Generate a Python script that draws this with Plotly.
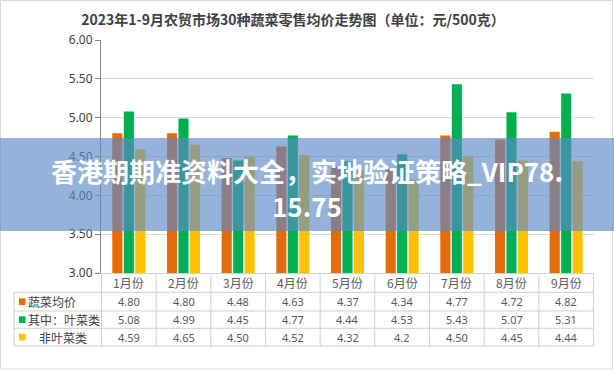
import plotly.graph_objects as go

months = ["1月份", "2月份", "3月份", "4月份", "5月份", "6月份", "7月份", "8月份", "9月份"]
avg_all = [4.80, 4.80, 4.48, 4.63, 4.37, 4.34, 4.77, 4.72, 4.82]
leafy = [5.08, 4.99, 4.45, 4.77, 4.44, 4.53, 5.43, 5.07, 5.31]
non_leafy = [4.59, 4.65, 4.50, 4.52, 4.32, 4.20, 4.50, 4.45, 4.44]
value_labels = [
    ["4.80", "4.80", "4.48", "4.63", "4.37", "4.34", "4.77", "4.72", "4.82"],
    ["5.08", "4.99", "4.45", "4.77", "4.44", "4.53", "5.43", "5.07", "5.31"],
    ["4.59", "4.65", "4.50", "4.52", "4.32", "4.2", "4.50", "4.45", "4.44"],
]
series_names = ["蔬菜均价", "其中：叶菜类", "非叶菜类"]
colors = ["#E46C0A", "#00B050", "#FFC000"]
title = "2023年1-9月农贸市场30种蔬菜零售均价走势图（单位：元/500克）"
overlay_lines = ["香港期期准资料大全，实地验证策略_VIP78.", "15.75"]

W, H = 614, 371
L, R, T, B = 101, 20, 40, 98
PW = W - L - R
PH = H - T - B


def xp(px):
    return (px - L) / PW


def yp(py):
    return (H - B - py) / PH


fig = go.Figure()
for name, vals, c in zip(series_names, [avg_all, leafy, non_leafy], colors):
    fig.add_trace(go.Bar(x=months, y=vals, name=name, marker=dict(color=c, line=dict(width=0))))

CJK = "Noto Sans CJK SC"
shapes = []
annotations = []
grid = "#D0D0D0"

rows_y = [273.3, 292.3, 311, 328.3, 346]
for y in rows_y[1:]:
    shapes.append(dict(type="line", xref="paper", yref="paper", x0=xp(14), x1=1, y0=yp(y), y1=yp(y),
                       line=dict(color=grid, width=1)))
shapes.append(dict(type="line", xref="paper", yref="paper", x0=xp(14), x1=xp(14), y0=yp(rows_y[1]), y1=yp(rows_y[-1]),
                   line=dict(color=grid, width=1)))
for i in range(len(months) + 1):
    shapes.append(dict(type="line", xref="x", yref="paper", x0=i - 0.5, x1=i - 0.5, y0=yp(rows_y[0]), y1=yp(rows_y[-1]),
                       line=dict(color=grid, width=1)))

row_centers = [(rows_y[k] + rows_y[k + 1]) / 2 for k in range(4)]
for i, m in enumerate(months):
    annotations.append(dict(x=m, xref="x", y=yp(row_centers[0]), yref="paper", text=m, showarrow=False,
                            font=dict(family=CJK, size=12, color="#595959"), xanchor="center", yanchor="middle"))
    for r in range(3):
        annotations.append(dict(x=m, xref="x", y=yp(row_centers[r + 1]), yref="paper", text=value_labels[r][i],
                                showarrow=False, font=dict(family="Noto Sans", size=11, color="#595959"),
                                xanchor="center", yanchor="middle"))

label_x = [26, 26, 37]
for r in range(3):
    cy = row_centers[r + 1]
    shapes.append(dict(type="rect", xref="paper", yref="paper", x0=xp(19), x1=xp(25.5), y0=yp(cy + 3.3), y1=yp(cy - 3.3),
                       fillcolor=colors[r], line=dict(width=0)))
    annotations.append(dict(x=xp(label_x[r]), xref="paper", y=yp(cy), yref="paper",
                            text=series_names[r], showarrow=False,
                            font=dict(family=CJK, size=12, color="#404040"), xanchor="left", yanchor="middle"))

shapes.append(dict(type="rect", xref="paper", yref="paper", x0=xp(0.5), x1=xp(612.5), y0=yp(369), y1=yp(0.5),
                   line=dict(color="#D9D9D9", width=1), fillcolor="rgba(0,0,0,0)"))

shapes.append(dict(type="rect", xref="paper", yref="paper", x0=xp(0), x1=xp(W), y0=yp(231), y1=yp(138),
                   fillcolor="rgba(92,137,198,0.65)", line=dict(width=0), layer="above"))
for txt, py in zip(overlay_lines, [170, 205]):
    annotations.append(dict(x=xp(307), xref="paper", y=yp(py), yref="paper", text="<b>" + txt + "</b>",
                            showarrow=False, font=dict(family=CJK, size=26, color="white"),
                            xanchor="center", yanchor="middle"))

fig.update_layout(
    width=W, height=H,
    margin=dict(l=L, r=R, t=T, b=B),
    paper_bgcolor="white", plot_bgcolor="white",
    barmode="group", bargap=0.37, bargroupgap=0.12,
    showlegend=False,
    title=dict(text="<b>" + title + "</b>", x=293 / W, xref="container", xanchor="center",
               y=1 - 20 / H, yref="container", yanchor="middle",
               font=dict(family=CJK, size=14, color="#404040")),
    xaxis=dict(showticklabels=False, showline=True, linecolor=grid, linewidth=1, ticks="",
               showgrid=False, zeroline=False),
    yaxis=dict(range=[3, 6], dtick=0.5, tickformat=".2f", showline=True, linecolor="#868686", linewidth=1,
               ticks="outside", ticklen=5, tickcolor="#868686", showgrid=True, gridcolor="#D9D9D9",
               zeroline=False, tickfont=dict(family="Noto Sans", size=12, color="#404040")),
    shapes=shapes,
    annotations=annotations,
)

fig.write_html("out.html", config={"displayModeBar": False},
               post_script="document.body.style.margin='0';document.body.style.overflow='hidden';")
